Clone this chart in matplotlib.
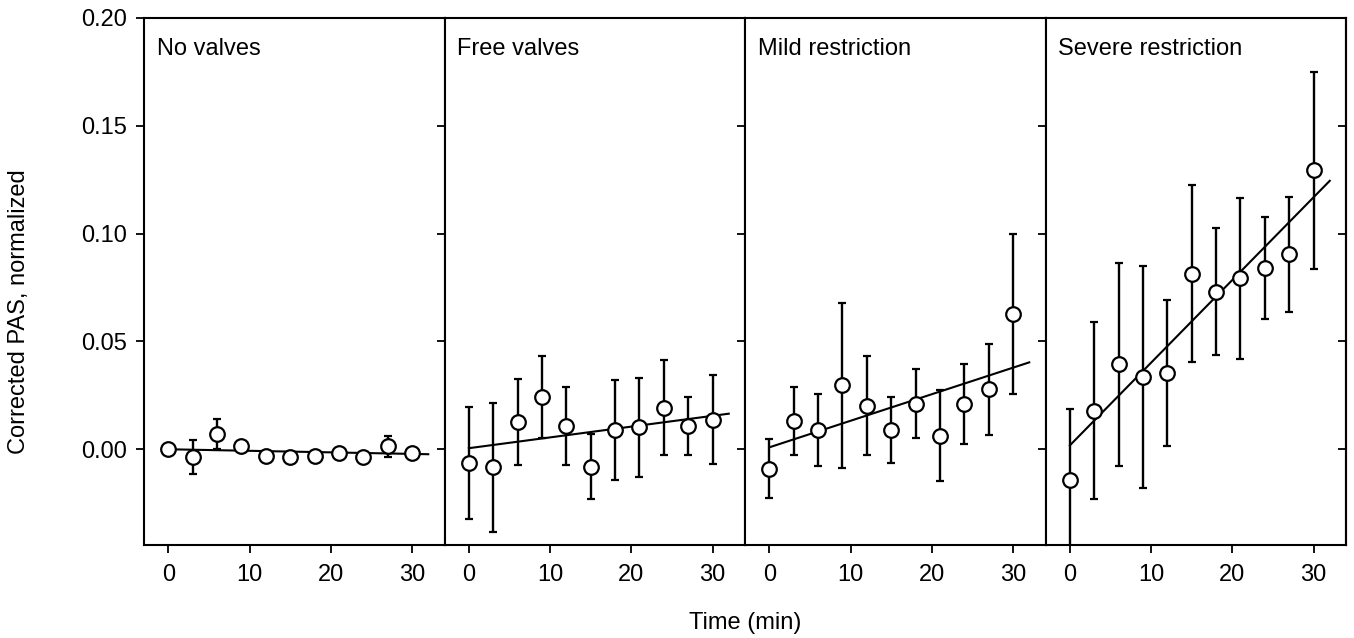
import numpy as np
import matplotlib
matplotlib.use('Agg')
import matplotlib.pyplot as plt

plt.rcParams['font.family'] = ['Liberation Sans', 'DejaVu Sans']

# time points (min)
t = [0, 3, 6, 9, 12, 15, 18, 21, 24, 27, 30]

titles = ['No valves', 'Free valves', 'Mild restriction', 'Severe restriction']

no_valves     = [0.000, -0.0036, 0.0072, 0.0013, -0.0030, -0.0036, -0.0032, -0.0018, -0.0036, 0.0013, -0.0018]
no_valves_err = [0.002, 0.008, 0.007, 0.0012, 0.0005, 0.0005, 0.0005, 0.0008, 0.0005, 0.005, 0.0015]

free_valves     = [-0.0063, -0.0084, 0.0125, 0.0242, 0.0108, -0.0081, 0.0090, 0.0102, 0.0192, 0.0108, 0.0138]
free_valves_err = [0.026, 0.030, 0.020, 0.019, 0.018, 0.015, 0.0233, 0.023, 0.022, 0.0135, 0.0205]

mild     = [-0.0090, 0.0131, 0.0090, 0.0296, 0.0202, 0.0090, 0.0210, 0.0063, 0.0210, 0.0278, 0.0627]
mild_err = [0.0138, 0.0157, 0.0166, 0.0383, 0.0230, 0.0152, 0.0160, 0.0210, 0.0186, 0.0212, 0.0372]

severe     = [-0.0143, 0.0179, 0.0394, 0.0335, 0.0353, 0.0815, 0.0731, 0.0792, 0.0842, 0.0905, 0.1294]
severe_err = [0.033, 0.041, 0.047, 0.0515, 0.0338, 0.041, 0.0293, 0.0374, 0.0236, 0.0267, 0.0457]

# regression lines (x from 0 to 32 min)
fit_x = [0, 32]
fit_y = [[0.0000, -0.0023],
         [0.0005, 0.0165],
         [0.0009, 0.0403],
         [0.0018, 0.1245]]

means = [no_valves, free_valves, mild, severe]
errs = [no_valves_err, free_valves_err, mild_err, severe_err]

W, H = 1354, 638
fig, axes = plt.subplots(1, 4, figsize=(W/100, H/100), dpi=100, sharey=True)
fig.subplots_adjust(left=144/W, right=1346/W, bottom=(H-545)/H, top=(H-18)/H, wspace=0)

yt = [0.0, 0.05, 0.10, 0.15, 0.20]

for i, ax in enumerate(axes):
    ax.plot(fit_x, fit_y[i], color='black', lw=1.5, zorder=2)
    ax.errorbar(t, means[i], yerr=errs[i], fmt='o', color='black', ms=10.5,
                mfc='white', mec='black', mew=1.6, elinewidth=1.7,
                capsize=3, capthick=1.7, zorder=3)
    ax.set_xlim(-3, 34)
    ax.set_ylim(-0.0444, 0.2)
    ax.set_xticks([0, 10, 20, 30])
    ax.set_yticks(yt)
    ax.tick_params(axis='both', direction='out', length=6, width=1.3, labelsize=17)
    ax.tick_params(axis='x', pad=8)
    ax.tick_params(axis='y', pad=6)
    for sp in ax.spines.values():
        sp.set_linewidth(1.5)
    ax.text(0.043, 0.942, titles[i], transform=ax.transAxes, fontsize=17,
            ha='left', va='center')
    if i > 0:
        ax.tick_params(axis='y', labelleft=False)

axes[0].set_yticklabels(['0.00', '0.05', '0.10', '0.15', '0.20'])

# inward ticks on the far right side
sec = axes[3].secondary_yaxis('right')
sec.set_yticks(yt)
sec.tick_params(direction='in', length=6, width=1.3, labelright=False)
sec.spines['right'].set_linewidth(1.5)

fig.text(19/W, 1 - 312/H, 'Corrected PAS, normalized', rotation=90,
         ha='center', va='center', fontsize=17)
fig.text(745/W, 1 - 623/H, 'Time (min)', ha='center', va='center', fontsize=17)

fig.savefig('out.png', dpi=100)
